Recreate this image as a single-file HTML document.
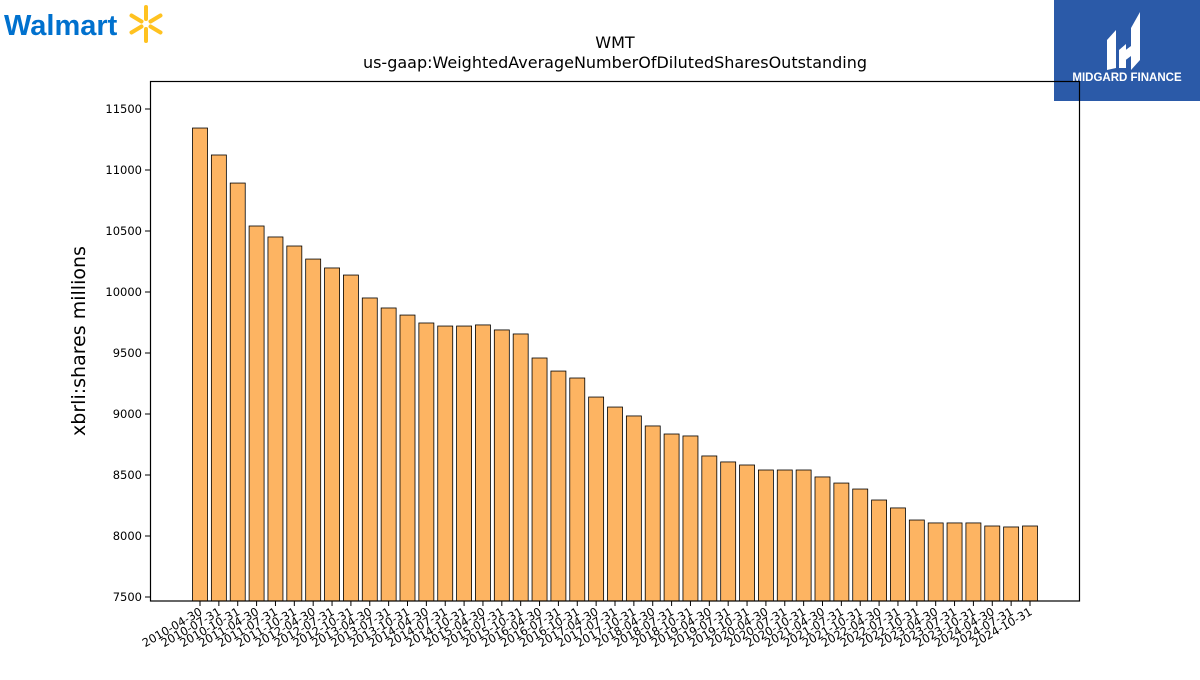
<!DOCTYPE html>
<html><head><meta charset="utf-8"><style>
body{margin:0;background:#fff;font-family:"Liberation Sans","DejaVu Sans",sans-serif;}
svg text{font-family:"DejaVu Sans","Liberation Sans",sans-serif;}
</style></head><body>
<svg id="chart" width="1200" height="675" xmlns="http://www.w3.org/2000/svg">
<rect width="1200" height="675" fill="#fff"/>
<g>
<text x="4" y="35" font-size="29" font-weight="bold" fill="#0071ce" style="font-family:'Liberation Sans',sans-serif">Walmart</text>
<g transform="translate(146,24)" stroke="#ffc220" stroke-width="4" stroke-linecap="round">
<line x1="0" y1="-5" x2="0" y2="-17"/><line x1="0" y1="5" x2="0" y2="17"/>
<line x1="4.5" y1="-2.5" x2="14.5" y2="-8.5"/><line x1="-4.5" y1="-2.5" x2="-14.5" y2="-8.5"/>
<line x1="4.5" y1="2.5" x2="14.5" y2="8.5"/><line x1="-4.5" y1="2.5" x2="-14.5" y2="8.5"/>
</g></g>
<g>
<rect x="1054" y="0" width="146" height="101" fill="#2b5aa8"/>
<path d="M1107 40 L1116 30 L1116 68 L1107 70 Z M1119 50 L1126 44 L1126 68 L1119 68 Z M1131 28 L1140 12 L1140 60 L1131 70 Z M1123 52 L1131 46 L1131 56 L1123 62 Z" fill="#fff"/>
<text x="1127" y="81" font-size="11.5" font-weight="bold" fill="#fff" text-anchor="middle" style="font-family:'Liberation Sans',sans-serif">MIDGARD FINANCE</text>
</g>
<text x="615" y="48" font-size="16" text-anchor="middle">WMT</text>
<text x="615" y="68" font-size="16" text-anchor="middle">us-gaap:WeightedAverageNumberOfDilutedSharesOutstanding</text>
<text transform="translate(85,341) rotate(-90)" font-size="19" text-anchor="middle">xbrli:shares millions</text>
<g id="bars"></g><g id="yticks"></g><g id="xticks"></g>
<rect x="150.5" y="81.5" width="929" height="519.5" fill="none" stroke="#000" stroke-width="1.2"/>
</svg>
<script>
const years=[2010,2011,2012,2013,2014,2015,2016,2017,2018,2019,2020,2021,2022,2023,2024];
const suffixes=["04-30","07-31","10-31"];
const categories=[];years.forEach(y=>suffixes.forEach(s=>categories.push(y+"-"+s)));
const values=[11344,11123,10893,10541,10451,10377,10270,10197,10139,9951,9869,9811,9746,9721,9721,9730,9689,9656,9459,9352,9295,9139,9057,8984,8902,8836,8820,8656,8607,8582,8541,8541,8541,8484,8434,8385,8295,8230,8131,8107,8107,8107,8082,8074,8082];
const yTicks=[7500,8000,8500,9000,9500,10000,10500,11000,11500];
const NS="http://www.w3.org/2000/svg";
const y=v=>597-(v-7500)*0.122;
const x=i=>200+i*(830/(categories.length-1));
const yBase=601;
function mk(t,a,p){const e=document.createElementNS(NS,t);for(const k in a)e.setAttribute(k,a[k]);p.appendChild(e);return e;}
const bars=document.getElementById('bars');
values.forEach((v,i)=>{
 const r=mk('rect',{x:x(i)-7.5,y:y(v),width:15,height:yBase-y(v),fill:'#fdb462',stroke:'#000','stroke-width':0.8},bars);
 
 
});
const yt=document.getElementById('yticks');
yTicks.forEach(t=>{
 const l=mk('line',{x1:145,x2:150,y1:y(t),y2:y(t),stroke:'#000'},yt);
 
 
 const tx=mk('text',{x:142,y:y(t)+4,'font-size':11.5,'text-anchor':'end'},yt);
 tx.textContent=t;
 
 
});
const xt=document.getElementById('xticks');
categories.forEach((c,i)=>{
 const l=mk('line',{x1:x(i),x2:x(i),y1:601,y2:606,stroke:'#000'},xt);
 
 
 const tx=mk('text',{transform:`translate(${x(i)+3},${614}) rotate(-30)`,'font-size':11.5,'text-anchor':'end'},xt);
 tx.textContent=c;
 
 
});
</script>
</body></html>
